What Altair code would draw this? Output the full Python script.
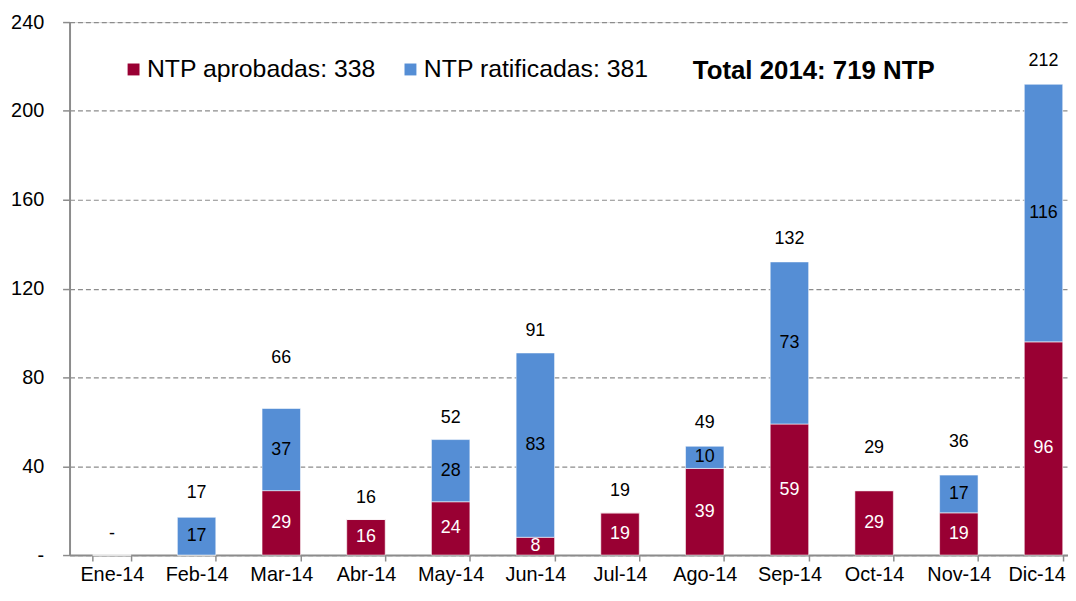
import altair as alt
import pandas as pd

months = ["Ene-14", "Feb-14", "Mar-14", "Abr-14", "May-14", "Jun-14",
          "Jul-14", "Ago-14", "Sep-14", "Oct-14", "Nov-14", "Dic-14"]
aprobadas = [0, 0, 29, 16, 24, 8, 19, 39, 59, 29, 19, 96]
ratificadas = [0, 17, 37, 0, 28, 83, 0, 10, 73, 0, 17, 116]
series_names = ["NTP aprobadas", "NTP ratificadas"]
series_colors = ["#990033", "#558ED5"]
# pixel lift of each total label above its bar
total_label_lift = [21, 24, 51, 22, 22, 22, 22, 23, 23, 43, 33, 23]
y_ticks = [0, 40, 80, 120, 160, 200, 240]

FONT = "Liberation Sans"

labels = [f"{series_names[0]}: {sum(aprobadas)}", f"{series_names[1]}: {sum(ratificadas)}"]
grand_total = sum(aprobadas) + sum(ratificadas)

rows = []
for i, m in enumerate(months):
    rows.append({"month": m, "series": labels[0], "value": aprobadas[i], "order": 0})
    rows.append({"month": m, "series": labels[1], "value": ratificadas[i], "order": 1})
df = pd.DataFrame(rows)

tot = pd.DataFrame({
    "month": months,
    "total": [a + r for a, r in zip(aprobadas, ratificadas)],
    "lift": [-v for v in total_label_lift],
})

last_month = months[-1]

x_enc = alt.X(
    "month:N", sort=months, title=None,
    scale=alt.Scale(domain=months, range=[0, 1024], paddingInner=0.546, paddingOuter=0.273),
    axis=alt.Axis(labelAngle=0, tickBand="extent", tickSize=6, labelPadding=4,
                  labelFontSize=20, labelFont=FONT, labelColor="#000000",
                  labelOffset={"condition": {"test": f"datum.value == '{last_month}'", "value": -7},
                               "value": 0},
                  domainColor="#8c8c8c", domainWidth=2, tickColor="#8c8c8c", tickWidth=1.5,
                  grid=False),
)
y_scale = alt.Scale(domain=[0, 240], nice=False)

bars = alt.Chart(df).mark_bar(stroke="#ffffff", strokeWidth=0.8, strokeOpacity=0.7).encode(
    x=x_enc,
    y=alt.Y("value:Q", stack="zero", scale=y_scale, title=None,
            axis=alt.Axis(values=y_ticks, labelExpr="datum.value == 0 ? '-' : datum.label",
                          tickSize=7, labelPadding=19, labelFontSize=20, labelFont=FONT,
                          labelColor="#000000", domainColor="#8c8c8c", domainWidth=2,
                          tickColor="#8c8c8c", tickWidth=1.5,
                          grid=True, gridColor="#8c8c8c", gridDash=[5, 3], gridWidth=1.2)),
    color=alt.Color("series:N", scale=alt.Scale(domain=labels, range=series_colors),
                    legend=alt.Legend(title=None, orient="none", legendX=52, legendY=35,
                                      direction="horizontal", labelFontSize=25, labelFont=FONT,
                                      labelColor="#000000", symbolType="square", symbolSize=144,
                                      symbolStrokeWidth=0, labelOffset=1, columnPadding=22,
                                      padding=0, labelLimit=500)),
    order=alt.Order("order:Q"),
)

inner = alt.Chart(df).transform_stack(
    stack="value", groupby=["month"], as_=["v0", "v1"], sort=[alt.SortField("order")]
).transform_calculate(
    mid="(datum.v0 + datum.v1) / 2"
).transform_filter("datum.value > 0").mark_text(
    fontSize=18, font=FONT, baseline="middle", align="center"
).encode(
    x=alt.X("month:N", sort=months),
    y=alt.Y("mid:Q", scale=y_scale),
    text=alt.Text("value:Q", format="d"),
    color=alt.condition("datum.order == 0", alt.value("#ffffff"), alt.value("#000000")),
)

totals = alt.Chart(tot).transform_calculate(
    lab="datum.total == 0 ? '-' : format(datum.total, 'd')"
).mark_text(fontSize=18, font=FONT, baseline="middle", align="center", color="#000000",
            dy=alt.ExprRef("datum.lift")).encode(
    x=alt.X("month:N", sort=months),
    y=alt.Y("total:Q", scale=y_scale),
    text="lab:N",
)

total_text = alt.Chart(pd.DataFrame({"t": [f"Total 2014: {grand_total} NTP"]})).mark_text(
    fontSize=26, font=FONT, fontWeight="bold", align="left", baseline="alphabetic", color="#000000"
).encode(
    x=alt.value(628), y=alt.value(57), text="t:N"
)

chart = alt.layer(bars, inner, totals, total_text).properties(
    width=1006, height=537,
    padding={"left": 62, "top": 12, "right": 0, "bottom": 29},
    autosize=alt.AutoSizeParams(type="none"),
).configure_view(stroke=None).configure(background="#ffffff")

chart.save("out.html", embed_options={"renderer": "svg", "actions": False})
